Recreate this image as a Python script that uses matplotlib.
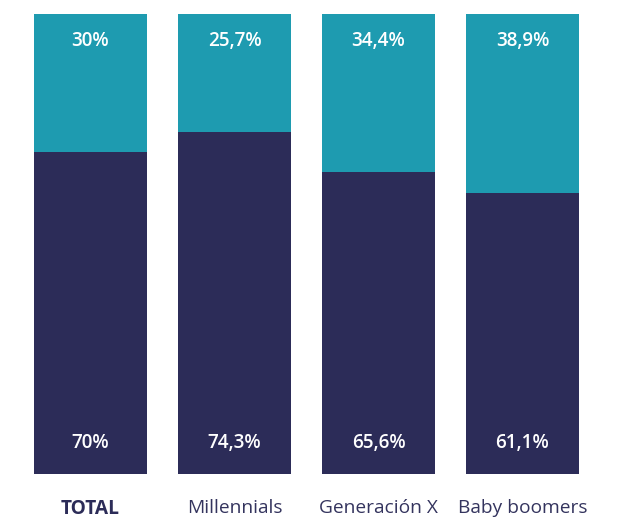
import matplotlib
matplotlib.use("Agg")
import matplotlib.pyplot as plt

categories = ["TOTAL", "Millennials", "Generación X", "Baby boomers"]
bottom_vals = [70.0, 74.3, 65.6, 61.1]
top_vals = [30.0, 25.7, 34.4, 38.9]
bottom_labels = ["70%", "74,3%", "65,6%", "61,1%"]
top_labels = ["30%", "25,7%", "34,4%", "38,9%"]

NAVY = "#2c2c58"
TEAL = "#1e9bb0"

plt.rcParams["font.family"] = ["Open Sans", "DejaVu Sans"]

fig = plt.figure(figsize=(6.3, 5.19), dpi=100)
ax = fig.add_axes([18.5 / 630, 45 / 519, 576 / 630, 460 / 519])

x = list(range(len(categories)))
w = 0.785
ax.bar(x, bottom_vals, width=w, color=NAVY, linewidth=0)
ax.bar(x, top_vals, width=w, bottom=bottom_vals, color=TEAL, linewidth=0)

for xi, bl, tl, bv, tv in zip(x, bottom_labels, top_labels, bottom_vals, top_vals):
    ax.text(xi, 6.8, bl, ha="center", va="center", color="white",
            fontsize=13.6, fontweight="semibold")
    ax.text(xi, 100 - 5.8, tl, ha="center", va="center", color="white",
            fontsize=13.6, fontweight="semibold")

ax.set_xlim(-0.5, len(categories) - 0.5)
ax.set_ylim(0, 100)
ax.set_xticks(x)
ax.set_xticklabels(categories, fontsize=13.8, color="#34345e")
ax.get_xticklabels()[0].set_fontweight("bold")
ax.get_xticklabels()[0].set_color(NAVY)
ax.tick_params(axis="x", length=0, pad=18)
ax.set_yticks([])
for s in ax.spines.values():
    s.set_visible(False)

fig.savefig("out.png", dpi=100)
